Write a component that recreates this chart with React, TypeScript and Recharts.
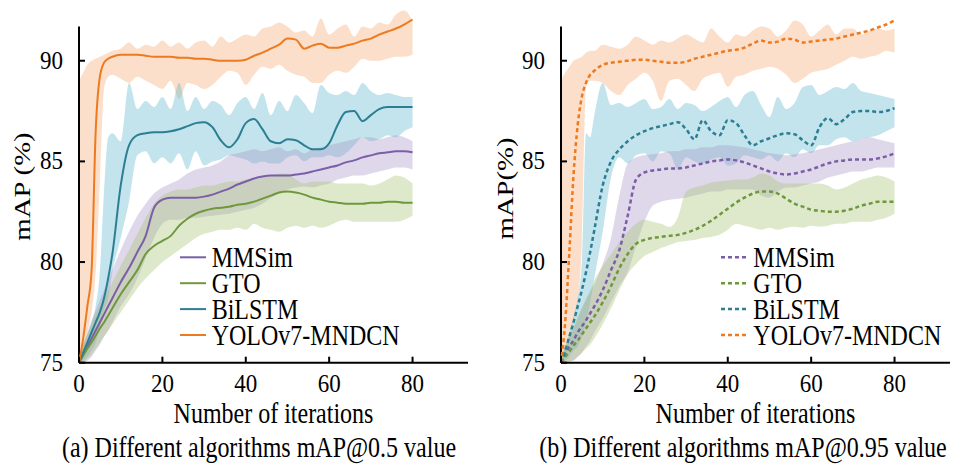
import React from "react";
import { Area, ComposedChart, Line, ReferenceLine, XAxis, YAxis } from "recharts";

const FONT = '"Liberation Serif", "Times New Roman", serif';

// iteration steps (x axis)
const ITER = [
	0, 1, 2, 3, 4, 5, 6, 7, 8,
	10, 12, 14, 16, 18, 20, 22, 24, 26, 28,
	30, 32, 34, 36, 38, 40, 42, 44, 46, 48,
	50, 52, 54, 56, 58, 60, 62, 64, 66, 68,
	70, 72, 74, 76, 78, 80,
];
const X_TICKS = [0, 20, 40, 60, 80];
const Y_TICKS = [75, 80, 85, 90];

// (a) mAP@0.5
const L_YOLO = [
	75, 76.2, 77.8, 79.5, 86.5, 89.2, 89.9, 90.1, 90.2,
	90.3, 90.3, 90.3, 90.25, 90.2, 90.2, 90.2, 90.15, 90.15, 90.1,
	90.1, 90.05, 90.0, 90.0, 90.0, 90.05, 90.25, 90.4, 90.6, 90.8,
	91.1, 91.05, 90.6, 90.75, 90.85, 90.65, 90.65, 90.75, 90.85, 91.0,
	91.1, 91.3, 91.45, 91.6, 91.8, 92.05,
];
const L_YOLO_LO = [
	75, 75.5, 76.5, 77.5, 79.5, 84, 88.6, 89.2, 89.3,
	89.1, 88.9, 89.2, 89.0, 88.8, 88.6, 89.0, 88.1, 88.9, 88.8,
	88.6, 88.8, 89.2, 89.5, 89.4, 88.8, 89.3, 89.7, 89.6, 89.8,
	89.5, 89.3, 89.2, 88.9, 88.9, 89.3, 89.5, 89.4, 89.7, 90.1,
	90.0, 90.0, 90.1, 90.2, 90.2, 90.3,
];
const L_YOLO_HI = [
	89.0, 89.4, 89.8, 90.0, 90.1, 90.2, 90.3, 90.4, 90.5,
	90.6, 90.9, 90.6, 90.8, 90.7, 91.0, 90.7, 90.9, 90.6, 90.9,
	91.0, 90.7, 91.2, 90.9, 91.1, 91.3, 91.2, 91.6, 91.7, 91.9,
	91.7, 91.4, 91.5, 91.2, 92.1, 91.3, 91.6, 91.8, 91.2, 91.7,
	91.6, 91.9, 91.8, 92.3, 92.5, 92.0,
];
const L_BI = [
	75, 75.5, 76.0, 76.5, 77.0, 77.5, 78.2, 79.2, 80.4,
	83.8, 85.8, 86.3, 86.4, 86.45, 86.45, 86.5, 86.6, 86.75, 86.9,
	86.95, 86.7, 86.05, 85.7, 86.1, 86.9, 87.1, 86.6, 86.0, 85.9,
	86.1, 86.05, 85.8, 85.6, 85.6, 85.9, 86.8, 87.45, 87.5, 87.0,
	87.3, 87.6, 87.7, 87.7, 87.7, 87.7,
];
const L_BI_LO = [
	75, 75.1, 75.3, 75.6, 76.0, 76.8, 77.6, 78.2, 79.5,
	81.2, 83.0, 85.3, 85.5, 84.9, 85.2, 84.9, 85.4, 84.6, 85.5,
	84.8, 85.0, 85.1, 85.3, 85.2, 85.1, 84.9, 85.0, 84.9, 84.9,
	85.2, 85.3, 85.0, 85.2, 85.2, 85.3, 85.2, 85.4, 85.8, 86.2,
	86.0, 86.1, 86.3, 86.2, 86.5, 86.7,
];
const L_BI_HI = [
	75.2, 75.8, 76.4, 77.0, 77.8, 79.5, 83.5, 86.2, 86.4,
	86.0, 88.9, 87.6, 88.0, 87.7, 88.2, 87.6, 88.9, 87.5, 88.2,
	87.6, 88.0, 87.8, 87.3, 87.9, 88.2, 87.6, 88.4, 87.3, 88.0,
	87.5, 88.3, 87.9, 87.4, 88.8, 88.4, 88.3, 88.5, 88.3, 88.9,
	88.5, 88.3, 88.4, 88.3, 88.2, 88.2,
];
const L_MM = [
	75, 75.4, 75.8, 76.2, 76.6, 77.0, 77.4, 77.8, 78.2,
	79.0, 79.7, 80.5, 81.3, 82.7, 83.1, 83.2, 83.2, 83.2, 83.2,
	83.25, 83.35, 83.5, 83.65, 83.85, 84.0, 84.15, 84.25, 84.3, 84.3,
	84.3, 84.35, 84.4, 84.5, 84.6, 84.7, 84.8, 84.95, 85.05, 85.2,
	85.3, 85.4, 85.45, 85.5, 85.5, 85.45,
];
const L_MM_LO = [
	75, 75, 75.1, 75.3, 75.6, 75.9, 76.3, 76.6, 77.0,
	77.8, 78.4, 79.2, 80.2, 81.2, 81.9, 82.1, 82.1, 82.2, 82.2,
	82.25, 82.3, 82.35, 82.4, 82.5, 82.6, 82.7, 82.9, 83.2, 83.4,
	83.6, 83.7, 83.75, 83.7, 83.8, 83.9, 84.1, 84.2, 84.3, 84.3,
	84.4, 84.5, 84.6, 84.7, 84.7, 84.6,
];
const L_MM_HI = [
	75.3, 75.9, 76.5, 77.1, 77.6, 78.1, 78.6, 79.1, 79.6,
	80.6, 81.5, 82.3, 82.9, 83.4, 83.7, 83.9, 84.1, 84.4, 84.6,
	84.7, 84.8, 85.0, 85.3, 85.4, 85.5, 85.6, 85.5, 85.6, 85.7,
	85.5, 85.6, 85.4, 85.6, 85.7, 85.8, 85.9, 86.0, 86.1, 86.2,
	86.2, 86.1, 86.2, 86.3, 86.2, 86.0,
];
const L_GTO = [
	75, 75.35, 75.7, 76.0, 76.35, 76.7, 77.0, 77.35, 77.7,
	78.4, 79.0, 79.6, 80.4, 80.8, 81.05, 81.3, 81.8, 82.15, 82.4,
	82.55, 82.65, 82.7, 82.75, 82.85, 82.9, 83.0, 83.15, 83.3, 83.45,
	83.5, 83.45, 83.35, 83.2, 83.1, 83.0, 82.95, 82.9, 82.9, 82.9,
	82.95, 82.95, 83.0, 83.0, 82.95, 82.95,
];
const L_GTO_LO = [
	75, 75, 75.2, 75.4, 75.7, 76.0, 76.3, 76.6, 76.9,
	77.5, 78.1, 78.7, 79.2, 79.6, 80.0, 80.3, 80.6, 80.9, 81.2,
	81.4, 81.5, 81.6, 81.6, 81.7, 81.6, 81.9, 81.7, 81.6, 81.5,
	81.7, 81.8, 81.7, 81.8, 81.7, 81.8, 82.0, 82.1, 82.0, 82.0,
	82.0, 82.0, 82.0, 82.0, 82.1, 82.3,
];
const L_GTO_HI = [
	75.3, 75.9, 76.4, 76.9, 77.4, 77.8, 78.2, 78.6, 79.0,
	79.8, 80.6, 81.4, 82.2, 82.9, 83.3, 83.5, 83.6, 83.6, 83.7,
	83.8, 83.8, 83.9, 84.0, 84.0, 84.1, 84.1, 84.2, 84.3, 84.4,
	84.4, 84.1, 83.9, 84.0, 84.0, 84.0, 83.9, 83.9, 83.9, 83.9,
	83.8, 83.9, 84.1, 84.3, 84.2, 83.9,
];

// (b) mAP@0.95
const R_YOLO = [
	75, 77.0, 80.5, 84.3, 86.8, 88.2, 88.9, 89.3, 89.5,
	89.8, 89.9, 89.95, 90.0, 90.05, 90.05, 90.0, 89.95, 89.9, 89.9,
	89.95, 90.1, 90.2, 90.3, 90.4, 90.5, 90.55, 90.65, 90.85, 91.0,
	90.9, 90.95, 91.1, 91.05, 90.9, 90.95, 91.0, 91.05, 91.1, 91.2,
	91.3, 91.4, 91.5, 91.65, 91.8, 92.0,
];
const R_YOLO_LO = [
	75, 75.3, 76, 77, 78, 81, 88.7, 89.0, 89.0,
	88.9, 88.5, 88.3, 88.8, 89.1, 89.4, 89.0, 88.0, 89.0, 89.1,
	88.8, 88.5, 89.1, 89.3, 89.4, 88.7, 89.2, 89.3, 89.5, 89.6,
	89.7, 89.6, 89.3, 88.9, 89.1, 89.4, 89.5, 89.6, 89.8, 90.0,
	90.2, 90.1, 90.2, 90.3, 90.5, 90.4,
];
const R_YOLO_HI = [
	89.0, 89.4, 89.7, 90.0, 90.1, 90.2, 90.4, 90.5, 90.5,
	90.8, 90.7, 90.6, 90.8, 91.2, 91.0, 90.8, 91.0, 90.9, 91.1,
	91.3, 91.1, 90.9, 91.6, 91.2, 90.9, 91.3, 91.2, 91.5, 91.7,
	91.6, 91.2, 91.5, 92.0, 91.8, 91.2, 91.5, 91.8, 91.3, 91.6,
	91.6, 91.3, 91.5, 91.6, 91.5, 91.6,
];
const R_BI = [
	75, 75.6, 76.3, 77.0, 77.8, 78.6, 79.5, 80.5, 81.6,
	83.8, 85.0, 85.6, 86.0, 86.3, 86.5, 86.65, 86.75, 86.85, 86.95,
	86.6, 86.1, 87.05, 86.5, 86.3, 87.05, 86.9, 86.3, 85.8, 86.0,
	86.15, 86.3, 86.4, 86.35, 86.05, 85.8, 86.7, 87.15, 86.85, 87.1,
	87.45, 87.5, 87.5, 87.45, 87.5, 87.65,
];
const R_BI_LO = [
	75, 75.1, 75.3, 75.6, 75.8, 76.3, 77.0, 78.0, 79.2,
	81.5, 84.2, 85.2, 84.9, 85.3, 85.4, 85.0, 85.5, 85.4, 84.6,
	85.2, 85.0, 84.9, 85.1, 85.2, 84.8, 84.9, 85.3, 85.2, 85.1,
	85.3, 85.0, 85.4, 85.2, 85.6, 85.4, 85.8, 85.8, 86.1, 86.2,
	86.0, 86.1, 86.2, 86.3, 86.5, 86.7,
];
const R_BI_HI = [
	75.2, 75.8, 76.5, 77.3, 78.2, 80.0, 86.4, 86.2, 87.3,
	88.9, 87.8, 87.9, 87.7, 87.9, 88.1, 87.6, 87.7, 88.1, 87.6,
	87.9, 87.8, 87.5, 87.7, 88.0, 88.2, 87.7, 88.3, 88.5, 87.8,
	87.2, 88.2, 87.6, 87.9, 88.7, 88.8, 88.3, 88.5, 88.7, 88.6,
	88.9, 88.5, 88.4, 88.3, 88.2, 88.1,
];
const R_MM = [
	75, 75.4, 75.8, 76.1, 76.5, 76.8, 77.1, 77.45, 77.8,
	78.6, 79.6, 80.6, 82.3, 84.1, 84.45, 84.55, 84.6, 84.65, 84.65,
	84.7, 84.8, 84.9, 85.0, 85.05, 85.1, 85.05, 84.95, 84.8, 84.65,
	84.5, 84.4, 84.35, 84.4, 84.5, 84.6, 84.75, 84.9, 85.0, 85.05,
	85.1, 85.1, 85.1, 85.15, 85.25, 85.4,
];
const R_MM_LO = [
	75, 75, 75.05, 75.1, 75.3, 75.5, 75.8, 76.1, 76.5,
	77.2, 78.0, 78.8, 79.5, 80.8, 82.0, 82.8, 83.0, 83.1, 83.15,
	83.2, 83.3, 83.4, 83.5, 83.5, 83.6, 83.6, 83.6, 83.6, 83.3,
	83.2, 83.5, 83.7, 83.7, 83.8, 83.9, 84.0, 84.2, 84.3, 84.4,
	84.5, 84.5, 84.6, 84.7, 84.7, 84.7,
];
const R_MM_HI = [
	75.2, 75.7, 76.2, 76.7, 77.2, 77.7, 78.1, 78.5, 78.9,
	79.9, 81.2, 83.3, 84.9, 85.2, 85.3, 85.35, 85.4, 85.5, 85.5,
	85.6, 85.6, 85.7, 85.7, 85.8, 85.8, 85.75, 85.7, 85.6, 85.5,
	85.4, 85.35, 85.3, 85.35, 85.4, 85.5, 85.6, 85.7, 85.8, 85.9,
	86.0, 86.1, 86.2, 86.1, 86.0, 85.9,
];
const R_GTO = [
	75, 75.3, 75.55, 75.85, 76.1, 76.4, 76.7, 77.0, 77.3,
	78.0, 78.8, 79.7, 80.4, 80.9, 81.1, 81.2, 81.25, 81.3, 81.35,
	81.45, 81.6, 81.8, 82.05, 82.35, 82.65, 82.95, 83.2, 83.4, 83.5,
	83.5, 83.4, 83.15, 82.9, 82.75, 82.6, 82.55, 82.5, 82.5, 82.55,
	82.65, 82.8, 82.9, 83.0, 83.0, 83.0,
];
const R_GTO_LO = [
	75, 75, 75.05, 75.15, 75.3, 75.5, 75.7, 75.9, 76.2,
	76.9, 77.7, 78.6, 79.4, 79.9, 80.3, 80.5, 80.7, 80.85, 81.0,
	81.05, 81.1, 81.2, 81.25, 81.35, 81.6, 81.9, 81.8, 81.7, 81.6,
	81.7, 81.6, 81.7, 81.75, 81.7, 81.8, 81.75, 81.8, 81.9, 81.9,
	82.0, 82.0, 82.0, 82.1, 82.2, 82.4,
];
const R_GTO_HI = [
	75.3, 75.8, 76.3, 76.8, 77.3, 77.7, 78.2, 78.6, 79.1,
	79.8, 80.4, 81.0, 81.5, 81.9, 82.1, 82.0, 81.9, 81.75, 82.2,
	83.5, 83.7, 83.8, 83.95, 84.0, 84.05, 84.1, 84.1, 84.2, 84.4,
	84.3, 84.0, 83.9, 83.9, 83.9, 83.9, 83.9, 83.8, 83.6, 83.7,
	83.9, 84.1, 84.2, 84.3, 84.2, 84.0,
];

const SERIES = [
	{ key: "mm", name: "MMSim", line: "#7B5EA7", band: "#A393C4" },
	{ key: "gto", name: "GTO", line: "#6F983C", band: "#A3C173" },
	{ key: "bi", name: "BiLSTM", line: "#2C7E93", band: "#5AB4CB" },
	{ key: "yolo", name: "YOLOv7-MNDCN", line: "#EE7A1F", band: "#F5A66B" },
];
const BAND_ORDER = ["yolo", "bi", "mm", "gto"];

type Triple = [number[], number[], number[]];

const LEFT: Record<string, Triple> = {
	mm: [L_MM, L_MM_LO, L_MM_HI],
	gto: [L_GTO, L_GTO_LO, L_GTO_HI],
	bi: [L_BI, L_BI_LO, L_BI_HI],
	yolo: [L_YOLO, L_YOLO_LO, L_YOLO_HI],
};
const RIGHT: Record<string, Triple> = {
	mm: [R_MM, R_MM_LO, R_MM_HI],
	gto: [R_GTO, R_GTO_LO, R_GTO_HI],
	bi: [R_BI, R_BI_LO, R_BI_HI],
	yolo: [R_YOLO, R_YOLO_LO, R_YOLO_HI],
};

function toRows(set: Record<string, Triple>) {
	return ITER.map((x, i) => {
		const row: Record<string, unknown> = { x };
		for (const s of SERIES) {
			const [mid, lo, hi] = set[s.key];
			row[s.key] = mid[i];
			row[s.key + "Band"] = [lo[i], hi[i]];
		}
		return row;
	});
}

function XTick(props: any) {
	const { x, y, payload } = props;
	return (
		<text
			transform={`translate(${x},${y}) scale(1,1.1)`}
			textAnchor="middle"
			fontFamily={FONT}
			fontSize={23}
			fill="#000"
		>
			{payload.value}
		</text>
	);
}

function YTick(props: any) {
	const { x, y, payload } = props;
	return (
		<text
			transform={`translate(${x},${y + 8}) scale(1,1.1)`}
			textAnchor="end"
			fontFamily={FONT}
			fontSize={23}
			fill="#000"
		>
			{payload.value}
		</text>
	);
}

function Panel({
	set,
	left,
	marginLeft,
	marginRight,
	dashed,
}: {
	set: Record<string, Triple>;
	left: number;
	marginLeft: number;
	marginRight: number;
	dashed: boolean;
}) {
	const data = toRows(set);
	return (
		<div style={{ position: "absolute", left, top: 0 }}>
			<ComposedChart
				width={478}
				height={400}
				data={data}
				margin={{ top: 8.4, right: marginRight, bottom: 7.3, left: marginLeft }}
			>
				<XAxis
					type="number"
					dataKey="x"
					domain={[0, 93.3]}
					ticks={X_TICKS}
					height={30}
					tickSize={-6}
					tickMargin={35}
					axisLine={{ stroke: "#000", strokeWidth: 2 }}
					tickLine={{ stroke: "#000", strokeWidth: 2 }}
					tick={XTick}
				/>
				<YAxis
					type="number"
					domain={[75, 92.6]}
					ticks={Y_TICKS}
					width={40}
					tickSize={-6}
					tickMargin={22}
					axisLine={false}
					tickLine={{ stroke: "#000", strokeWidth: 2 }}
					tick={YTick}
				/>
				{BAND_ORDER.map((k) => {
					const s = SERIES.find((d) => d.key === k)!;
					return (
						<Area
							key={k + "Band"}
							type="monotone"
							dataKey={k + "Band"}
							stroke="none"
							fill={s.band}
							fillOpacity={0.36}
							isAnimationActive={false}
							activeDot={false}
						/>
					);
				})}
				<ReferenceLine
					segment={[
						{ x: 0, y: 75 },
						{ x: 0, y: 91.7 },
					]}
					stroke="#000"
					strokeWidth={2}
				/>
				{SERIES.map((s) => (
					<Line
						key={s.key}
						type="monotone"
						dataKey={s.key}
						stroke={s.line}
						strokeWidth={dashed ? 2.5 : 2}
						strokeDasharray={dashed ? "4 3" : undefined}
						dot={false}
						activeDot={false}
						isAnimationActive={false}
					/>
				))}
			</ComposedChart>
		</div>
	);
}

function Legend({ lineX, textX, dashed }: { lineX: number; textX: number; dashed: boolean }) {
	const rows = [257.3, 283.2, 309.1, 335];
	return (
		<g>
			{SERIES.map((s, i) => (
				<g key={s.key}>
					<line
						x1={lineX}
						x2={lineX + 26}
						y1={rows[i]}
						y2={rows[i]}
						stroke={s.line}
						strokeWidth={dashed ? 2.5 : 2}
						strokeDasharray={dashed ? "4 3" : undefined}
					/>
					<text
						transform={`translate(${textX},${rows[i] + 9.5}) scale(1,1.2)`}
						fontFamily={FONT}
						fontSize={24}
						fill="#000"
					>
						{s.name}
					</text>
				</g>
			))}
		</g>
	);
}

function Caption({ x, y, text, size = 24 }: { x: number; y: number; text: string; size?: number }) {
	return (
		<text
			transform={`translate(${x},${y}) scale(1,1.25)`}
			textAnchor="middle"
			fontFamily={FONT}
			fontSize={size}
			fill="#000"
		>
			{text}
		</text>
	);
}

export default function App() {
	return (
		<div style={{ position: "absolute", left: 0, top: 0, width: 958, height: 464, background: "#fff" }}>
			<Panel set={LEFT} left={0} marginLeft={39} marginRight={10} dashed={false} />
			<Panel set={RIGHT} left={480} marginLeft={41} marginRight={8} dashed={true} />
			<svg
				width={958}
				height={464}
				style={{ position: "absolute", left: 0, top: 0, pointerEvents: "none" }}
			>
				<text
					transform="translate(22.5,186.5) rotate(-90) scale(1.25,1)"
					textAnchor="middle"
					dominantBaseline="central"
					fontFamily={FONT}
					fontSize={23}
					fill="#000"
				>
					mAP (%)
				</text>
				<text
					transform="translate(505,188.5) rotate(-90) scale(1.25,1)"
					textAnchor="middle"
					dominantBaseline="central"
					fontFamily={FONT}
					fontSize={23}
					fill="#000"
				>
					mAP(%)
				</text>
				<Legend lineX={180} textX={211.7} dashed={false} />
				<Legend lineX={721} textX={753.3} dashed={true} />
				<Caption x={273.5} y={423.3} text="Number of iterations" />
				<Caption x={755.5} y={423.3} text="Number of iterations" />
				<Caption x={259} y={456.7} text="(a) Different algorithms mAP@0.5 value" />
				<Caption x={743} y={456.7} text="(b) Different algorithms mAP@0.95 value" />
			</svg>
		</div>
	);
}
